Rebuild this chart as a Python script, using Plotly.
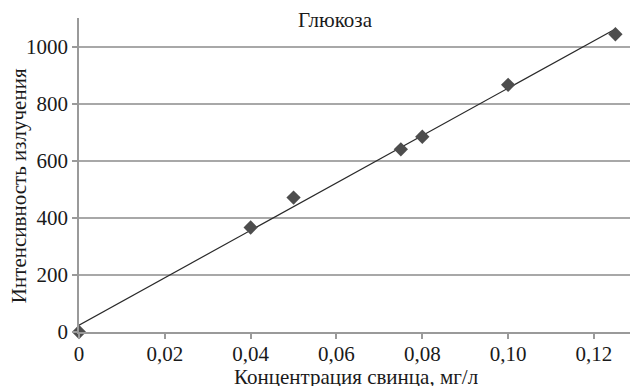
import numpy as np
import plotly.graph_objects as go

title_text = "Глюкоза"
x_title = "Концентрация свинца, мг/л"
y_title = "Интенсивность излучения"

conc = [0.0, 0.04, 0.05, 0.075, 0.08, 0.10, 0.125]
intensity = [0, 366, 471, 640, 684, 866, 1043]

x_tickvals = [0, 0.02, 0.04, 0.06, 0.08, 0.10, 0.12]
x_ticktext = ["0", "0,02", "0,04", "0,06", "0,08", "0,10", "0,12"]
y_tickvals = [0, 200, 400, 600, 800, 1000]

# linear trend line from least squares fit of the data
slope, intercept = np.polyfit(conc, intensity, 1)
fit_x = [min(conc), max(conc)]
fit_y = [slope * v + intercept for v in fit_x]

FONT = "Liberation Serif"
FS = 21
TXT = "#1a1a1a"

fig = go.Figure()
fig.add_trace(go.Scatter(x=fit_x, y=fit_y, mode="lines",
                         line=dict(color="#2a2a2a", width=1.2),
                         showlegend=False, hoverinfo="skip"))
fig.add_trace(go.Scatter(x=conc, y=intensity, mode="markers",
                         marker=dict(symbol="diamond", size=11, color="#4d4d4d"),
                         showlegend=False, cliponaxis=False))

fig.update_layout(
    width=630, height=386,
    margin=dict(l=79, r=0, t=18, b=54),
    paper_bgcolor="white", plot_bgcolor="white",
    font=dict(family=FONT, size=FS, color=TXT),
    xaxis=dict(range=[0, 0.1284], tickvals=x_tickvals, ticktext=x_ticktext,
               showgrid=False, zeroline=False, showline=True,
               linecolor="#9a9a9a", linewidth=1.5,
               ticks="outside", ticklen=5, tickcolor="#9a9a9a", tickwidth=1.5,
               ticklabelstandoff=-3,
               tickfont=dict(family=FONT, size=FS, color=TXT)),
    yaxis=dict(range=[0, 1100], tickvals=y_tickvals,
               showgrid=True, gridcolor="#a8a8a8", gridwidth=1.8,
               zeroline=False, showline=True,
               linecolor="#9a9a9a", linewidth=1.5,
               ticks="outside", ticklen=5, tickcolor="#9a9a9a", tickwidth=1.5,
               tickfont=dict(family=FONT, size=FS, color=TXT)),
    annotations=[
        dict(text=title_text, xref="paper", yref="paper", x=(335 - 79) / 551, y=1.0,
             xanchor="center", yanchor="middle", yshift=-2, showarrow=False,
             font=dict(family=FONT, size=FS, color=TXT)),
        dict(text=x_title, xref="paper", yref="paper", x=(356 - 79) / 551, y=0,
             xanchor="center", yanchor="middle", yshift=-45, showarrow=False,
             font=dict(family=FONT, size=FS, color=TXT)),
        dict(text=y_title, xref="paper", yref="paper", x=0, y=(331.7 - 186) / 313.7,
             xanchor="center", yanchor="middle", xshift=-60, textangle=-90,
             showarrow=False, font=dict(family=FONT, size=FS, color=TXT)),
    ],
)

fig.write_html("out.html", config={"displayModeBar": False},
               post_script="document.body.style.margin='0';")
